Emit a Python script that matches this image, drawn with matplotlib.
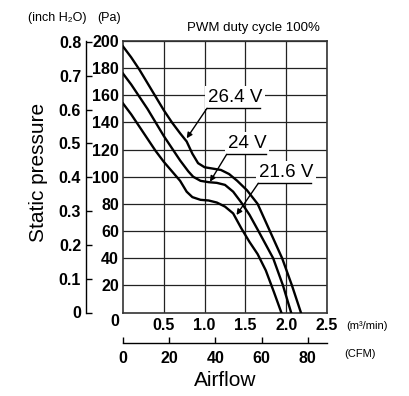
import matplotlib
matplotlib.use('Agg')
import matplotlib.pyplot as plt

# ---- data (airflow in m3/min, static pressure in Pa) ----
flow_264 = [0.0, 0.1, 0.2, 0.3, 0.4, 0.5, 0.6, 0.7, 0.78, 0.85, 0.92, 1.0, 1.1, 1.2, 1.3, 1.4, 1.52, 1.65, 1.8, 1.95, 2.07, 2.18]
pres_264 = [196, 188, 179, 169, 159, 149, 140, 132, 126, 117, 110, 107, 106, 105, 102, 97, 90, 80, 60, 40, 20, 0]

flow_240 = [0.0, 0.1, 0.2, 0.3, 0.4, 0.5, 0.6, 0.7, 0.8, 0.86, 0.95, 1.05, 1.15, 1.25, 1.35, 1.45, 1.55, 1.66, 1.75, 1.84, 1.96, 2.06]
pres_240 = [176, 168, 159, 150, 140, 130, 121, 112, 104, 100, 97, 96, 95.5, 94, 89, 81, 72, 60, 50, 40, 20, 0]

flow_216 = [0.0, 0.1, 0.2, 0.3, 0.4, 0.5, 0.6, 0.7, 0.78, 0.85, 0.95, 1.05, 1.15, 1.25, 1.35, 1.45, 1.55, 1.65, 1.75, 1.85, 1.94]
pres_216 = [154, 146, 137, 128, 119, 111, 104, 97, 89, 85, 83, 82.5, 81, 78, 73, 62, 52, 43, 31, 15, 0]

series_labels = ['26.4 V', '24 V', '21.6 V']

pa_ticks = [20, 40, 60, 80, 100, 120, 140, 160, 180, 200]
x_ticks = [0.5, 1.0, 1.5, 2.0, 2.5]
x_ticklabels = ['0.5', '1.0', '1.5', '2.0', '2.5']
inch_ticks = [0, 0.1, 0.2, 0.3, 0.4, 0.5, 0.6, 0.7, 0.8]
inch_ticklabels = ['0', '0.1', '0.2', '0.3', '0.4', '0.5', '0.6', '0.7', '0.8']
cfm_ticks = [0, 20, 40, 60, 80]

PA_PER_INCH = 249.089
CFM_PER_M3 = 35.3147

W, H = 409, 396
fig = plt.figure(figsize=(W / 100, H / 100), dpi=100)
ax = fig.add_axes([123 / W, 1 - 312.5 / H, 204 / W, 271.5 / H])

SANS = ['Liberation Sans', 'DejaVu Sans']
tickfont = dict(family=SANS, weight='bold', size=11.5)

ax.set_xlim(0, 2.5)
ax.set_ylim(0, 200)
ax.set_xticks(x_ticks)
ax.set_xticklabels(x_ticklabels, fontdict=tickfont)
ax.set_yticks(pa_ticks)
ax.set_yticklabels([str(v) for v in pa_ticks], fontdict=tickfont)
ax.tick_params(axis='x', length=0, pad=4)
ax.tick_params(axis='y', length=0, pad=3)
ax.grid(True, color='#222222', linewidth=0.9)
ax.set_axisbelow(True)
for s in ax.spines.values():
    s.set_color('#333333')
    s.set_linewidth(1.2)

# corner zero
fig.text(115 / W, 1 - 321 / H, '0', ha='center', va='center', fontdict=tickfont)

# curves
for fx, py in [(flow_264, pres_264), (flow_240, pres_240), (flow_216, pres_216)]:
    ax.plot(fx, py, color='black', linewidth=1.7, solid_joinstyle='round', zorder=3)

# secondary inch H2O axis
sec = ax.secondary_yaxis(-0.181, functions=(lambda p: p / PA_PER_INCH, lambda i: i * PA_PER_INCH))
sec.set_yticks(inch_ticks)
sec.set_yticklabels(inch_ticklabels, fontdict=tickfont)
sec.tick_params(direction='in', length=4, width=1, pad=3.5)
sec.spines['left'].set_linewidth(1)

# secondary CFM axis
secx = ax.secondary_xaxis(-0.1123, functions=(lambda m: m * CFM_PER_M3, lambda c: c / CFM_PER_M3))
secx.set_xticks(cfm_ticks)
secx.set_xticklabels([str(v) for v in cfm_ticks], fontdict=tickfont)
secx.tick_params(direction='in', length=4, width=1, pad=5.5)
secx.spines['bottom'].set_linewidth(1)

# annotations: (label, underline left px, underline y px, underline right px, arrow tip px)
ann = [
    (series_labels[0], 207, 108.3, 260, (186.7, 138.3)),
    (series_labels[1], 226.7, 154.3, 266, (210, 181.7)),
    (series_labels[2], 258.3, 183.3, 311, (236.5, 215)),
]

def px2data(px, py):
    return (px - 123) / 81.6, (312.5 - py) / 1.3575

for lab, lx, ly, rx, tip in ann:
    x0, y0 = px2data(lx, ly)
    x1, _ = px2data(rx, ly)
    tx, ty = px2data(*tip)
    ax.text(x0 + 0.01, y0 + 1.5, lab, ha='left', va='bottom', family=SANS, fontsize=13.5,
            zorder=4, bbox=dict(boxstyle='square,pad=0.15', facecolor='white', edgecolor='none'))
    ax.plot([x0, x1], [y0, y0], color='black', linewidth=1, zorder=5)
    ax.annotate('', xy=(tx, ty), xytext=(x0, y0), zorder=5,
                arrowprops=dict(arrowstyle='-|>', color='black', lw=1,
                                mutation_scale=8, shrinkA=0, shrinkB=0))

# texts
fig.text(57 / W, 1 - 18 / H, '(inch H₂O)', ha='center', va='center', family=SANS, fontsize=9)
fig.text(109 / W, 1 - 18 / H, '(Pa)', ha='center', va='center', family=SANS, fontsize=9)
fig.text(253 / W, 1 - 28 / H, 'PWM duty cycle 100%', ha='center', va='center', family=SANS, fontsize=9.5)
fig.text(367 / W, 1 - 326 / H, '(m³/min)', ha='center', va='center', family=SANS, fontsize=8)
fig.text(360 / W, 1 - 354 / H, '(CFM)', ha='center', va='center', family=SANS, fontsize=8)
fig.text(38 / W, 1 - 172 / H, 'Static pressure', ha='center', va='center', rotation=90,
         family=SANS, fontsize=15)
fig.text(225 / W, 1 - 381 / H, 'Airflow', ha='center', va='center', family=SANS, fontsize=15)

fig.savefig('out.png', dpi=100)
